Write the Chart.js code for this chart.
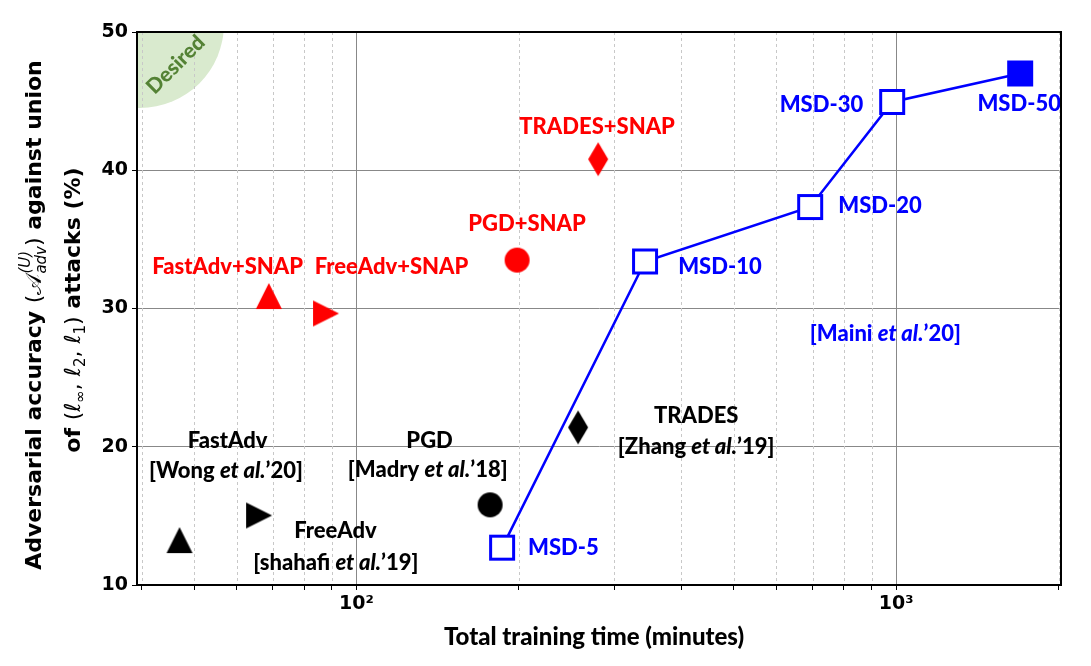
<!DOCTYPE html>
<html><head><meta charset="utf-8">
<script src="https://cdn.jsdelivr.net/npm/chart.js@4.4.1/dist/chart.umd.min.js"></script>
<style>html,body{margin:0;padding:0;background:#fff}#wrap{width:1091px;height:666px}</style>
</head><body><div id="wrap"><canvas id="c" width="1091" height="666"></canvas></div>
<script>
// ---------------- data ----------------
const baseMethods = ['FastAdv', 'FreeAdv', 'PGD', 'TRADES'];
const baseTime = [47.0, 66.0, 176.8, 257.4];
const baseAcc = [13.25, 15.03, 15.8, 21.4];
const snapMethods = ['FastAdv+SNAP', 'FreeAdv+SNAP', 'PGD+SNAP', 'TRADES+SNAP'];
const snapTime = [68.8, 87.8, 198.4, 280.4];
const snapAcc = [30.9, 29.64, 33.5, 40.8];
const msdLabels = ['MSD-5', 'MSD-10', 'MSD-20', 'MSD-30', 'MSD-50'];
const msdTime = [186.1, 342.5, 692.7, 983, 1697];
const msdAcc = [12.7, 33.4, 37.34, 44.94, 47.0];
const xMajorTicks = [100, 1000];
const xTickLabels = ['10²', '10³'];
const yTickStep = 10;

// ---------------- styles / annotation placement ----------------
const RED = '#ff0000', BLUE = '#0000ff', BLACK = '#000000';
const LFONT = '"Lato Heavy", "Lato Black", "Lato"';
const LBL = 22;
const labelDefs = [
  {x: 279.1, y: 43.13, c: RED, parts: [['TRADES+SNAP']]},
  {x: 207, y: 36.11, c: RED, parts: [['PGD+SNAP']]},
  {x: 57.7, y: 33.0, c: RED, parts: [['FastAdv+SNAP']]},
  {x: 116.1, y: 33.0, c: RED, parts: [['FreeAdv+SNAP']]},
  {x: 425.9, y: 22.22, c: BLACK, parts: [['TRADES']]},
  {x: 425.9, y: 19.98, c: BLACK, parts: [['[Zhang '], ['et al.', 1], ['’19]']]},
  {x: 136.6, y: 20.42, c: BLACK, parts: [['PGD']]},
  {x: 135.5, y: 18.32, c: BLACK, parts: [['[Madry '], ['et al.', 1], ['’18]']]},
  {x: 57.7, y: 20.42, c: BLACK, parts: [['FastAdv']]},
  {x: 57.3, y: 18.25, c: BLACK, parts: [['[Wong '], ['et al.', 1], ['’20]']]},
  {x: 91.4, y: 13.9, c: BLACK, parts: [['FreeAdv']]},
  {x: 91.6, y: 11.59, c: BLACK, parts: [['[shahafi '], ['et al.', 1], ['’19]']]},
  {x: 207.9, y: 12.68, c: BLUE, align: 'left', parts: [['MSD-5']]},
  {x: 394.5, y: 33.0, c: BLUE, align: 'left', parts: [['MSD-10']]},
  {x: 781, y: 37.41, c: BLUE, align: 'left', parts: [['MSD-20']]},
  {x: 868.6, y: 44.72, c: BLUE, align: 'right', parts: [['MSD-30']]},
  {x: 1690, y: 44.79, c: BLUE, parts: [['MSD-50']]},
  {x: 954.7, y: 28.16, c: BLUE, parts: [['[Maini '], ['et al.', 1], ['’20]']]}
];

function mk(shape, color, w, h, open) {
  const lw = open ? 3 : 0, pad = 2;
  const c = document.createElement('canvas');
  c.width = w + pad * 2; c.height = h + pad * 2;
  const g = c.getContext('2d');
  g.translate(pad, pad);
  g.beginPath();
  if (shape === 'triUp') { g.moveTo(w / 2, 0); g.lineTo(w, h); g.lineTo(0, h); g.closePath(); }
  else if (shape === 'triRight') { g.moveTo(0, 0); g.lineTo(w, h / 2); g.lineTo(0, h); g.closePath(); }
  else if (shape === 'circle') { g.arc(w / 2, h / 2, w / 2, 0, Math.PI * 2); }
  else if (shape === 'diamond') { g.moveTo(w / 2, 0); g.lineTo(w, h / 2); g.lineTo(w / 2, h); g.lineTo(0, h / 2); g.closePath(); }
  else if (shape === 'square') { if (open) g.rect(lw / 2, lw / 2, w - lw, h - lw); else g.rect(0, 0, w, h); }
  if (open) { g.fillStyle = '#fff'; g.fill(); g.lineWidth = lw; g.strokeStyle = color; g.stroke(); }
  else { g.fillStyle = color; g.fill(); }
  return c;
}
const shapes = ['triUp', 'triRight', 'circle', 'diamond'];
const shapeSize = [[26, 26], [26, 26], [25, 25], [20, 34]];
const baseStyles = shapes.map((s, i) => mk(s, BLACK, shapeSize[i][0], shapeSize[i][1], false));
const snapStyles = shapes.map((s, i) => mk(s, RED, shapeSize[i][0], shapeSize[i][1], false));
const msdStyles = msdLabels.map((l, i) => mk('square', BLUE, 26, 26, i < msdLabels.length - 1));

function isInt(v) {
  const s = v / Math.pow(10, Math.floor(Math.log10(v) + 1e-9));
  return Math.abs(s - Math.round(s)) < 1e-6;
}

function drawRich(ctx, parts, x0, y0, align) {
  const widths = parts.map(p => { ctx.font = p.font; return ctx.measureText(p.t).width; });
  let total = 0, i = 0;
  while (i < parts.length) {
    if (parts[i].stack) { total += Math.max(widths[i], widths[i + 1]); i += 2; }
    else { total += widths[i]; i++; }
  }
  let x = align === 'left' ? x0 : align === 'right' ? x0 - total : x0 - total / 2;
  ctx.textAlign = 'left';
  i = 0;
  while (i < parts.length) {
    const p = parts[i];
    ctx.font = p.font; ctx.fillText(p.t, x, y0 + (p.dy || 0));
    if (p.stack) {
      const q = parts[i + 1];
      ctx.font = q.font; ctx.fillText(q.t, x, y0 + (q.dy || 0));
      x += Math.max(widths[i], widths[i + 1]); i += 2;
    } else { x += widths[i]; i++; }
  }
}

const B22 = 'bold 22px "DejaVu Sans"', R22 = '22px "DejaVu Sans"', I22 = 'italic 22px "DejaVu Sans"', SUB = 'italic 15px "DejaVu Sans"', SUBR = '15px "DejaVu Sans"';
const yTitle1 = [
  {t: 'Adversarial accuracy ', font: B22},
  {t: '(', font: R22},
  {t: '𝒜', font: R22},
  {t: 'adv', font: SUB, dy: 5, stack: true}, {t: '(U)', font: SUB, dy: -11},
  {t: ')', font: R22},
  {t: ' against union', font: B22}
];
const yTitle2 = [
  {t: 'of ', font: B22},
  {t: '(', font: R22},
  {t: 'ℓ', font: I22}, {t: '∞', font: SUBR, dy: 5},
  {t: ', ', font: R22},
  {t: 'ℓ', font: I22}, {t: '2', font: SUBR, dy: 5},
  {t: ', ', font: R22},
  {t: 'ℓ', font: I22}, {t: '1', font: SUBR, dy: 5},
  {t: ')', font: R22},
  {t: ' attacks (%)', font: B22}
];

const deco = {
  id: 'deco',
  beforeDraw(chart) {
    const {ctx, chartArea: a, scales: {x, y}} = chart;
    ctx.save();
    ctx.beginPath(); ctx.rect(a.left, a.top, a.right - a.left, a.bottom - a.top); ctx.clip();
    const cx = x.getPixelForValue(39.7), cy = y.getPixelForValue(50.58);
    ctx.beginPath(); ctx.arc(cx, cy, 84, 0, Math.PI * 2);
    ctx.fillStyle = 'rgb(217,234,206)'; ctx.fill();
    ctx.restore();
  },
  beforeDatasetsDraw(chart) {
    const {ctx, chartArea: a, scales: {x}} = chart;
    ctx.save();
    ctx.strokeStyle = '#c8c8c8'; ctx.lineWidth = 1; ctx.setLineDash([3, 3]);
    x.ticks.forEach(t => {
      if (!isInt(t.value) || xMajorTicks.includes(t.value)) return;
      const px = Math.round(x.getPixelForValue(t.value)) + 0.5;
      if (px <= a.left + 1 || px >= a.right - 1) return;
      ctx.beginPath(); ctx.moveTo(px, a.top); ctx.lineTo(px, a.bottom); ctx.stroke();
    });
    ctx.restore();
  },
  afterDatasetsDraw(chart) {
    const {ctx, chartArea: a, scales: {x, y}} = chart;
    ctx.save();
    const cx = x.getPixelForValue(39.7), cy = y.getPixelForValue(50.58);
    ctx.translate(cx + 36, cy + 41); ctx.rotate(-Math.PI / 4);
    ctx.fillStyle = '#548235'; ctx.font = '800 21px ' + LFONT; ctx.textAlign = 'center'; ctx.textBaseline = 'middle';
    ctx.fillText('Desired', 0, 0);
    ctx.restore();
    ctx.save();
    ctx.textBaseline = 'middle';
    labelDefs.forEach(L => {
      ctx.fillStyle = L.c;
      const parts = L.parts.map(p => ({t: p[0], font: (p[1] ? 'italic ' : '') + '800 ' + LBL + 'px ' + LFONT}));
      drawRich(ctx, parts, x.getPixelForValue(L.x), y.getPixelForValue(L.y), L.align || 'center');
    });
    ctx.restore();
    ctx.save();
    ctx.strokeStyle = '#000'; ctx.lineWidth = 2;
    ctx.strokeRect(a.left, a.top, a.right - a.left, a.bottom - a.top);
    ctx.restore();
  },
  afterDraw(chart) {
    const {ctx} = chart;
    ctx.save();
    ctx.fillStyle = '#000';
    ctx.font = '800 24px ' + LFONT; ctx.textAlign = 'center'; ctx.textBaseline = 'middle';
    ctx.fillText('Total training time (minutes)', 594, 638);
    ctx.textBaseline = 'alphabetic';
    ctx.save(); ctx.translate(41, 315); ctx.rotate(-Math.PI / 2); drawRich(ctx, yTitle1, 0, 0, 'center'); ctx.restore();
    ctx.save(); ctx.translate(80, 310); ctx.rotate(-Math.PI / 2); drawRich(ctx, yTitle2, 0, 0, 'center'); ctx.restore();
    ctx.restore();
  }
};

const chart = new Chart(document.getElementById('c'), {
  type: 'scatter',
  data: {
    datasets: [
      {label: 'Baselines', data: baseTime.map((t, i) => ({x: t, y: baseAcc[i]})), pointStyle: baseStyles, pointRadius: 12, showLine: false},
      {label: '+SNAP', data: snapTime.map((t, i) => ({x: t, y: snapAcc[i]})), pointStyle: snapStyles, pointRadius: 12, showLine: false},
      {label: 'MSD', data: msdTime.map((t, i) => ({x: t, y: msdAcc[i]})), pointStyle: msdStyles, pointRadius: 12, showLine: true, borderColor: BLUE, borderWidth: 2.5, tension: 0}
    ]
  },
  options: {
    responsive: false, animation: false, events: [],
    layout: {padding: {top: 32, right: 30, left: 0, bottom: 0}},
    plugins: {legend: {display: false}, tooltip: {enabled: false}},
    scales: {
      x: {
        type: 'logarithmic', min: 39.2, max: 2020,
        afterFit(s) { s.height = 81; },
        border: {display: true, color: '#000', width: 2},
        grid: {
          color: c => (c.tick && xMajorTicks.includes(c.tick.value)) ? '#888' : 'rgba(0,0,0,0)',
          tickColor: c => (c.tick && isInt(c.tick.value)) ? '#000' : 'rgba(0,0,0,0)',
          tickLength: 5, lineWidth: 1
        },
        ticks: {
          autoSkip: false, maxRotation: 0, padding: 3, color: '#000',
          font: {family: 'DejaVu Sans', weight: 'bold', size: 19},
          callback: v => { const k = xMajorTicks.indexOf(v); return k >= 0 ? xTickLabels[k] : ''; }
        }
      },
      y: {
        min: 10, max: 50,
        afterFit(s) { s.width = 137; },
        border: {display: true, color: '#000', width: 2},
        grid: {color: '#888', tickColor: '#000', tickLength: 5, lineWidth: 1},
        ticks: {stepSize: yTickStep, padding: 4, color: '#000', font: {family: 'DejaVu Sans', weight: 'bold', size: 19}}
      }
    }
  },
  plugins: [deco]
});
setTimeout(() => chart.draw(), 200);
</script></body></html>
